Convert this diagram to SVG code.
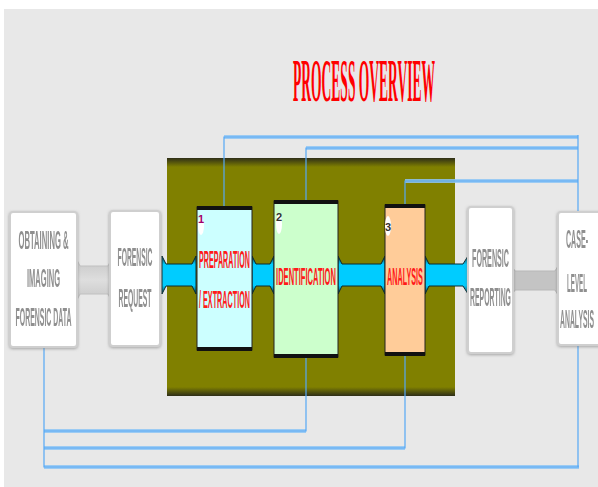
<svg xmlns="http://www.w3.org/2000/svg" width="598" height="487" viewBox="0 0 598 487">
<defs>
<style>
.gray{font-family:"Liberation Sans",Arial,sans-serif;font-size:25px;font-weight:bold;fill:#8f8f8f;text-anchor:middle}
.red{font-family:"Liberation Sans",Arial,sans-serif;font-size:24px;font-weight:bold;fill:#ff1a1a;text-anchor:middle}
.num{font-family:"Liberation Sans",Arial,sans-serif;font-size:11px;font-weight:bold;fill:#333;text-anchor:middle}
.wbox{fill:#ffffff;stroke:#cfcfcf;stroke-width:2}
.band{fill:none;stroke:#8ec5f5;stroke-width:4}
.thin{fill:none;stroke:#55a8f5;stroke-width:1.2}
.pipe{fill:url(#pipeShade);stroke:#0a2a30;stroke-width:1}
</style>
<linearGradient id="topShade" x1="0" y1="0" x2="0" y2="1">
<stop offset="0" stop-color="#2e2e18"/><stop offset="1" stop-color="#808000"/>
</linearGradient>
<linearGradient id="botShade" x1="0" y1="0" x2="0" y2="1">
<stop offset="0" stop-color="#808000"/><stop offset="1" stop-color="#2e2e18"/>
</linearGradient>
<linearGradient id="pipeShade" x1="0" y1="0" x2="0" y2="1">
<stop offset="0" stop-color="#0a3a44"/><stop offset="0.22" stop-color="#00ccff"/><stop offset="0.78" stop-color="#00ccff"/><stop offset="1" stop-color="#0a3a44"/>
</linearGradient>
<linearGradient id="grayPipe" x1="0" y1="0" x2="0" y2="1">
<stop offset="0" stop-color="#c8c8c8"/><stop offset="0.5" stop-color="#dedede"/><stop offset="1" stop-color="#c8c8c8"/>
</linearGradient>
<filter id="sh" x="-20%" y="-20%" width="140%" height="140%">
<feDropShadow dx="0" dy="1" stdDeviation="1.5" flood-color="#777" flood-opacity="0.6"/>
</filter>
</defs>

<rect x="0" y="0" width="598" height="487" fill="#ffffff"/>
<rect x="4" y="9" width="594" height="478" fill="#e8e8e8"/>

<text transform="translate(364,101) scale(0.21,1)" x="0" y="0" font-family="'Liberation Serif','Times New Roman',serif" font-size="62" font-weight="bold" fill="#ff0000" text-anchor="middle" textLength="676" lengthAdjust="spacingAndGlyphs">PROCESS OVERVIEW</text>

<g id="container">
<rect x="167" y="158" width="288" height="238" rx="2" fill="#808000"/>
<rect x="167" y="158" width="288" height="9" fill="url(#topShade)"/>
<rect x="167" y="387" width="288" height="9" fill="url(#botShade)"/>
</g>

<g id="connectors">
<path fill="url(#grayPipe)" stroke="#c0c0c0" stroke-width="1" d="M77,260 L80,266 L108,266 L111,260 L111,300 L108,294 L80,294 L77,300 Z"/>
<path fill="#c4c4c4" stroke="#b8b8b8" stroke-width="1" d="M512,266 L515,271 L555,271 L558,266 L558,295 L555,290 L515,290 L512,295 Z"/>
<path class="pipe" d="M162,256 L166,264 L192,264 L196,256 L196,294 L192,286 L166,286 L162,294 Z"/>
<path class="pipe" d="M252,256 L256,264 L270,264 L274,256 L274,294 L270,286 L256,286 L252,294 Z"/>
<path class="pipe" d="M338,256 L342,264 L381,264 L385,256 L385,294 L381,286 L342,286 L338,294 Z"/>
<path class="pipe" d="M425,256 L429,264 L463,264 L468,256 L468,294 L463,286 L429,286 L425,294 Z"/>
<g opacity="0.85">
<path class="band" d="M224,137 H578 M306,148 H578 M405,181 H578 M44,431 H306 M44,448 H405 M44,467 H579"/>
</g>
<path class="thin" d="M224,207 V137 H578 M306,202 V148 H578 M405,204 V181 H578 M578,135 V212 M578,345 V467 M306,357 V431 H44 M405,355 V448 H44 M44,347 V467 H579"/>
</g>

<g id="obtaining" filter="url(#sh)">
<rect class="wbox" x="10" y="212" width="67" height="135" rx="3"/>
<text class="gray" transform="translate(43.5,249) scale(0.28,1)" textLength="179" lengthAdjust="spacingAndGlyphs">OBTAINING &amp;</text>
<text class="gray" transform="translate(43.5,287) scale(0.28,1)" textLength="118" lengthAdjust="spacingAndGlyphs">IMAGING</text>
<text class="gray" transform="translate(43.5,326) scale(0.28,1)" textLength="200" lengthAdjust="spacingAndGlyphs">FORENSIC DATA</text>
</g>

<g id="request" filter="url(#sh)">
<rect class="wbox" x="110" y="211" width="50" height="135" rx="3"/>
<text class="gray" transform="translate(135,266) scale(0.28,1)" textLength="125" lengthAdjust="spacingAndGlyphs">FORENSIC</text>
<text class="gray" transform="translate(135,307) scale(0.28,1)" textLength="118" lengthAdjust="spacingAndGlyphs">REQUEST</text>
</g>

<g id="preparation">
<rect x="197" y="207" width="55" height="143" fill="#ccffff" stroke="#222" stroke-width="1"/>
<rect x="197" y="206" width="55" height="4" fill="#111"/>
<rect x="197" y="347" width="55" height="4" fill="#111"/>
<ellipse cx="201" cy="226" rx="3" ry="9" fill="#ffffff"/>
<text class="num" x="201" y="223" style="fill:#a0006a">1</text>
<text class="red" transform="translate(224.5,268) scale(0.28,1)" textLength="182" lengthAdjust="spacingAndGlyphs">PREPARATION</text>
<text class="red" transform="translate(224.5,308) scale(0.28,1)" textLength="182" lengthAdjust="spacingAndGlyphs">/ EXTRACTION</text>
</g>

<g id="identification">
<rect x="274" y="201" width="64" height="156" fill="#ccffcc" stroke="#222" stroke-width="1"/>
<rect x="274" y="200" width="64" height="4" fill="#111"/>
<rect x="274" y="354" width="64" height="4" fill="#111"/>
<ellipse cx="279" cy="224" rx="3" ry="10" fill="#ffffff"/>
<text class="num" x="279" y="221">2</text>
<text class="red" transform="translate(306,285) scale(0.28,1)" textLength="214" lengthAdjust="spacingAndGlyphs">IDENTIFICATION</text>
</g>

<g id="analysis">
<rect x="385" y="205" width="40" height="150" fill="#ffcc99" stroke="#222" stroke-width="1"/>
<rect x="385" y="204" width="40" height="4" fill="#111"/>
<rect x="385" y="352" width="40" height="4" fill="#111"/>
<ellipse cx="388" cy="226" rx="3" ry="10" fill="#ffffff"/>
<text class="num" x="388" y="231">3</text>
<text class="red" transform="translate(405,285) scale(0.28,1)" textLength="128" lengthAdjust="spacingAndGlyphs">ANALYSIS</text>
</g>

<g id="reporting" filter="url(#sh)">
<rect class="wbox" x="468" y="207" width="45" height="146" rx="3"/>
<text class="gray" transform="translate(490.5,267) scale(0.28,1)" textLength="132" lengthAdjust="spacingAndGlyphs">FORENSIC</text>
<text class="gray" transform="translate(490.5,306) scale(0.28,1)" textLength="146" lengthAdjust="spacingAndGlyphs">REPORTING</text>
</g>

<g id="caselevel" filter="url(#sh)">
<rect class="wbox" x="558" y="212" width="44" height="133" rx="3"/>
<text class="gray" transform="translate(577,248) scale(0.28,1)" textLength="79" lengthAdjust="spacingAndGlyphs">CASE-</text>
<text class="gray" transform="translate(577,292) scale(0.28,1)" textLength="71" lengthAdjust="spacingAndGlyphs">LEVEL</text>
<text class="gray" transform="translate(577,328) scale(0.28,1)" textLength="121" lengthAdjust="spacingAndGlyphs">ANALYSIS</text>
</g>
</svg>
